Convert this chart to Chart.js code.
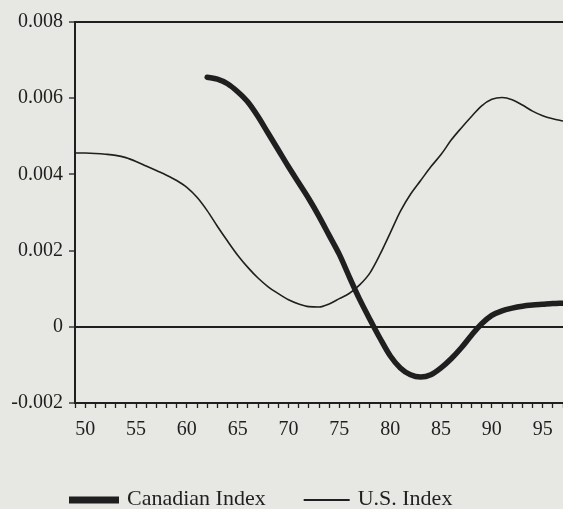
<!DOCTYPE html>
<html>
<head>
<meta charset="utf-8">
<script src="https://cdn.jsdelivr.net/npm/chart.js@4/dist/chart.umd.min.js"></script>
<style>
  html, body { margin: 0; padding: 0; background: #e7e7e3; overflow: hidden; }
  canvas { display: block; }
</style>
</head>
<body>
<canvas id="indexChart" width="563" height="509"></canvas>
<script>
// years on the x axis (19xx)
const years = [49, 50, 51, 52, 53, 54, 55, 56, 57, 58, 59, 60, 61, 62, 63, 64, 65, 66, 67, 68,
  69, 70, 71, 72, 73, 74, 75, 76, 77, 78, 79, 80, 81, 82, 83, 84, 85, 86, 87, 88,
  89, 90, 91, 92, 93, 94, 95, 96, 97];

const usIndex = [0.00456, 0.00456, 0.00455, 0.00453, 0.00450, 0.00444, 0.00434, 0.00422, 0.00410, 0.00398,
  0.00384, 0.00366, 0.00340, 0.00305, 0.00264, 0.00225, 0.00188, 0.00156, 0.00128, 0.00105,
  0.00087, 0.00071, 0.00060, 0.00053, 0.00052, 0.00060, 0.00074, 0.00088, 0.00110, 0.00141,
  0.00190, 0.00246, 0.00303, 0.00348, 0.00384, 0.00420, 0.00452, 0.00490, 0.00522, 0.00552,
  0.00580, 0.00597, 0.00602, 0.00596, 0.00582, 0.00566, 0.00554, 0.00546, 0.00540];

// Canadian series starts in 62
const canadianIndex = [null, null, null, null, null, null, null, null, null, null,
  null, null, null, 0.00655, 0.00650, 0.00638, 0.00617, 0.00590, 0.00552, 0.00508,
  0.00464, 0.00420, 0.00378, 0.00336, 0.00290, 0.00240, 0.00190, 0.00130, 0.00072, 0.00020,
  -0.00030, -0.00076, -0.00108, -0.00126, -0.00132, -0.00126, -0.00108, -0.00084, -0.00055, -0.00022,
  0.00008, 0.00030, 0.00042, 0.00049, 0.00054, 0.00057, 0.00059, 0.00061, 0.00062];

const xLabels = [50, 55, 60, 65, 70, 75, 80, 85, 90, 95];
const yTicks = [-0.002, 0, 0.002, 0.004, 0.006, 0.008];

const ink = '#1f1f1f';
const font = 'Liberation Serif, Times New Roman, serif';

const toPoints = vals => vals.map((v, i) => ({ x: years[i], y: v }));

// legend drawn under the plot, items left to right
const lineLegend = {
  id: 'lineLegend',
  afterDraw(chart) {
    const c = chart.ctx;
    c.save();
    c.font = '22px ' + font;
    c.fillStyle = ink;
    c.textBaseline = 'middle';
    let x = 69;
    const y = 500;
    chart.data.datasets.forEach(ds => {
      c.strokeStyle = ink;
      c.lineWidth = ds.legendWidth;
      c.beginPath();
      c.moveTo(x, y);
      c.lineTo(x + ds.legendLength, y);
      c.stroke();
      x += ds.legendLength + 8;
      c.fillText(ds.label, x, y - 1);
      x += c.measureText(ds.label).width + 38;
    });
    c.restore();
  }
};

new Chart(document.getElementById('indexChart'), {
  type: 'line',
  data: {
    datasets: [
      {
        label: 'Canadian Index',
        data: toPoints(canadianIndex),
        borderColor: ink,
        borderWidth: 5.5,
        legendWidth: 7,
        legendLength: 50,
        pointRadius: 0,
        cubicInterpolationMode: 'monotone',
        borderCapStyle: 'round'
      },
      {
        label: 'U.S. Index',
        data: toPoints(usIndex),
        borderColor: ink,
        borderWidth: 1.6,
        legendWidth: 2,
        legendLength: 46,
        pointRadius: 0,
        cubicInterpolationMode: 'monotone'
      }
    ]
  },
  options: {
    responsive: false,
    animation: false,
    layout: { padding: { top: 22, right: 0, bottom: 0, left: 0 } },
    plugins: {
      legend: { display: false },
      tooltip: { enabled: false }
    },
    scales: {
      x: {
        type: 'linear',
        min: 49,
        max: 97,
        afterFit: s => { s.height = 106; s.paddingRight = 0; s.paddingLeft = 0; },
        ticks: {
          stepSize: 1,
          autoSkip: false,
          maxRotation: 0,
          padding: 10,
          color: ink,
          font: { family: font, size: 20 },
          callback: v => xLabels.includes(v) ? String(v) : ''
        },
        grid: { drawOnChartArea: false, drawTicks: true, tickLength: 5, tickColor: ink, tickWidth: 1.3 },
        border: { display: true, color: ink, width: 2 }
      },
      y: {
        min: -0.002,
        max: 0.008,
        afterFit: s => { s.width = 75; },
        afterBuildTicks: s => { s.ticks = yTicks.map(v => ({ value: v })); },
        ticks: {
          padding: 6,
          color: ink,
          font: { family: font, size: 20 },
          callback: v => Math.abs(v) < 1e-9 ? '0' : v.toFixed(3)
        },
        grid: {
          drawTicks: true,
          tickLength: 6,
          tickColor: ink,
          tickWidth: 1.3,
          lineWidth: 2,
          color: ctx => (ctx.tick && (Math.abs(ctx.tick.value) < 1e-9 || Math.abs(ctx.tick.value - 0.008) < 1e-9)) ? ink : 'rgba(0,0,0,0)'
        },
        border: { display: true, color: ink, width: 2 }
      }
    }
  },
  plugins: [lineLegend]
});
</script>
</body>
</html>
